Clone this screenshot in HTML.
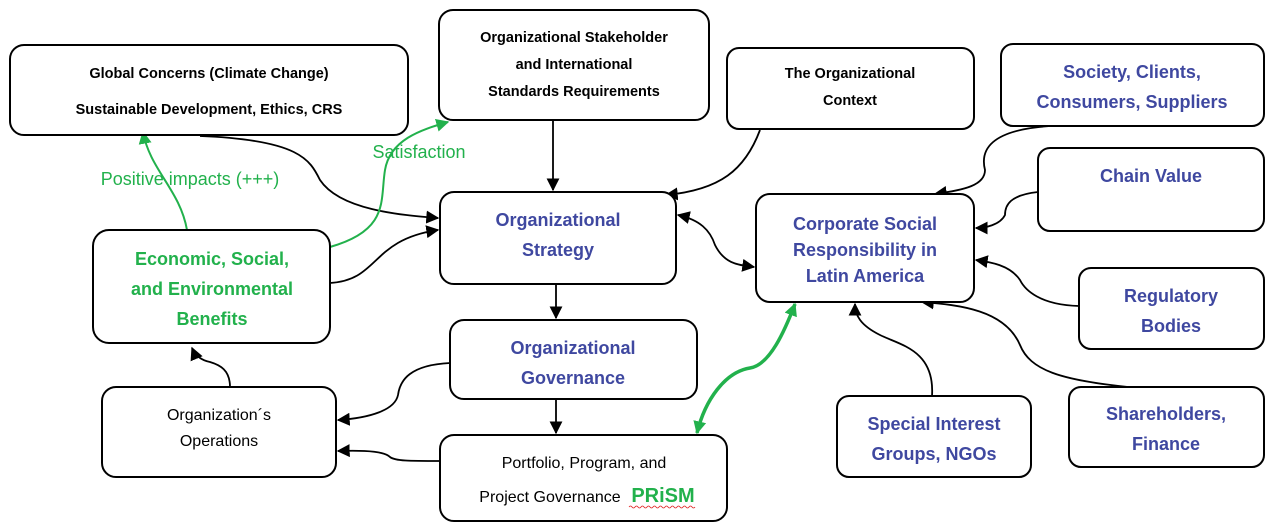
<!DOCTYPE html>
<html><head><meta charset="utf-8"><style>
html,body{margin:0;padding:0;background:#fff;}
svg{display:block;font-family:"Liberation Sans Narrow","Liberation Sans",sans-serif;}
.b{fill:#fff;stroke:#000;stroke-width:2;}
.k{fill:none;stroke:#000;stroke-width:1.8;}
.g{fill:none;stroke:#22b14c;stroke-width:2;}
text{text-anchor:middle;}
.bl{fill:#3f48a0;font-weight:bold;font-size:18px;}
.bk{fill:#000;font-weight:bold;font-size:14.5px;}
.gr{fill:#22b14c;font-weight:bold;font-size:18px;}
.n{fill:#000;font-size:16px;}
</style></head><body>
<svg width="1272" height="532" viewBox="0 0 1272 532">
<defs>
<marker id="a" viewBox="0 0 10 10" refX="9" refY="5" markerWidth="7" markerHeight="7" markerUnits="userSpaceOnUse" orient="auto-start-reverse"><path d="M0,0 L10,5 L0,10 z" fill="#000"/></marker>
<marker id="ag" viewBox="0 0 10 10" refX="9" refY="5" markerWidth="7" markerHeight="7" markerUnits="userSpaceOnUse" orient="auto-start-reverse"><path d="M0,0 L10,5 L0,10 z" fill="#22b14c"/></marker>
<marker id="A" viewBox="0 0 10 10" refX="9" refY="5" markerWidth="13" markerHeight="13" markerUnits="userSpaceOnUse" orient="auto-start-reverse"><path d="M0,0 L10,5 L0,10 z" fill="#000"/></marker>
<marker id="AG" viewBox="0 0 10 10" refX="9" refY="5" markerWidth="13" markerHeight="13" markerUnits="userSpaceOnUse" orient="auto-start-reverse"><path d="M0,0 L10,5 L0,10 z" fill="#22b14c"/></marker>
</defs>

<!-- connectors -->
<g class="k">
<path d="M200,136 C300,140 310,160 320,180 C340,210 400,215 438,218" marker-end="url(#A)"/>
<path d="M330,283 C380,280 370,240 438,230" marker-end="url(#A)"/>
<path d="M553,120 L553,190" marker-end="url(#A)"/>
<path d="M760,130 C745,170 720,190 666,195" marker-end="url(#A)"/>
<path d="M678,215 C700,220 710,230 715,245 C725,265 740,265 754,267" marker-start="url(#A)" marker-end="url(#A)"/>
<path d="M1050,126 C990,130 980,150 985,170 C985,185 965,190 935,194" marker-end="url(#A)"/>
<path d="M1038,192 C1010,195 1005,205 1005,215 C1000,225 985,228 976,228" marker-end="url(#A)"/>
<path d="M1079,306 C1040,305 1025,290 1020,280 C1010,265 990,262 976,260" marker-end="url(#A)"/>
<path d="M1128,387 C1060,380 1030,370 1020,345 C1005,310 960,305 922,302" marker-end="url(#A)"/>
<path d="M932,396 C935,350 900,345 880,335 C860,325 855,315 855,304" marker-end="url(#A)"/>
<path d="M556,284 L556,318" marker-end="url(#A)"/>
<path d="M556,399 L556,433" marker-end="url(#A)"/>
<path d="M450,363 C410,365 400,380 398,395 C395,410 370,418 338,420" marker-end="url(#A)"/>
<path d="M440,461 C410,461 395,461 390,457 C385,452 370,450 338,451" marker-end="url(#A)"/>
<path d="M230,387 C230,370 220,365 210,362 C200,360 195,355 192,348" marker-end="url(#A)"/>
</g>
<path class="g" d="M187,230 C180,190 150,170 143,132" marker-end="url(#AG)"/>
<path class="g" d="M330,247 C390,230 380,200 385,170 C390,140 420,130 448,122" marker-end="url(#AG)"/>
<path d="M795,304 C785,330 770,365 750,368 C725,372 705,400 697,433" fill="none" stroke="#22b14c" stroke-width="3.5" marker-start="url(#AG)" marker-end="url(#AG)"/>

<!-- boxes -->
<rect class="b" x="10" y="45" width="398" height="90" rx="14"/>
<rect class="b" x="439" y="10" width="270" height="110" rx="14"/>
<rect class="b" x="727" y="48" width="247" height="81" rx="12"/>
<rect class="b" x="1001" y="44" width="263" height="82" rx="12"/>
<rect class="b" x="1038" y="148" width="226" height="83" rx="12"/>
<rect class="b" x="440" y="192" width="236" height="92" rx="14"/>
<rect class="b" x="756" y="194" width="218" height="108" rx="14"/>
<rect class="b" x="93" y="230" width="237" height="113" rx="16"/>
<rect class="b" x="1079" y="268" width="185" height="81" rx="12"/>
<rect class="b" x="450" y="320" width="247" height="79" rx="14"/>
<rect class="b" x="102" y="387" width="234" height="90" rx="14"/>
<rect class="b" x="837" y="396" width="194" height="81" rx="12"/>
<rect class="b" x="1069" y="387" width="195" height="80" rx="12"/>
<rect class="b" x="440" y="435" width="287" height="86" rx="14"/>

<!-- text -->
<text class="bk" x="209" y="78">Global Concerns (Climate Change)</text>
<text class="bk" x="209" y="114">Sustainable Development, Ethics, CRS</text>
<text class="bk" x="574" y="42">Organizational Stakeholder</text>
<text class="bk" x="574" y="69">and International</text>
<text class="bk" x="574" y="96">Standards Requirements</text>
<text class="bk" x="850" y="78">The Organizational</text>
<text class="bk" x="850" y="105">Context</text>
<text class="bl" x="1132" y="78">Society, Clients,</text>
<text class="bl" x="1132" y="108">Consumers, Suppliers</text>
<text class="bl" x="1151" y="182">Chain Value</text>
<text class="bl" x="558" y="226">Organizational</text>
<text class="bl" x="558" y="256">Strategy</text>
<text class="bl" x="865" y="230">Corporate Social</text>
<text class="bl" x="865" y="256">Responsibility in</text>
<text class="bl" x="865" y="282">Latin America</text>
<text class="gr" x="212" y="265">Economic, Social,</text>
<text class="gr" x="212" y="295">and Environmental</text>
<text class="gr" x="212" y="325">Benefits</text>
<text class="bl" x="1171" y="302">Regulatory</text>
<text class="bl" x="1171" y="332">Bodies</text>
<text class="bl" x="573" y="354">Organizational</text>
<text class="bl" x="573" y="384">Governance</text>
<text class="n" x="219" y="420">Organization´s</text>
<text class="n" x="219" y="446">Operations</text>
<text class="bl" x="934" y="430">Special Interest</text>
<text class="bl" x="934" y="460">Groups, NGOs</text>
<text class="bl" x="1166" y="420">Shareholders,</text>
<text class="bl" x="1166" y="450">Finance</text>
<text class="n" x="584" y="468">Portfolio, Program, and</text>
<text class="n" x="550" y="502">Project Governance</text>
<text x="663" y="502" style="fill:#22b14c;font-weight:bold;font-size:20px;">PRiSM</text>
<path d="M629,507 q1.5,-2 3,0 t3,0 t3,0 t3,0 t3,0 t3,0 t3,0 t3,0 t3,0 t3,0 t3,0 t3,0 t3,0 t3,0 t3,0 t3,0 t3,0 t3,0 t3,0 t3,0 t3,0 t3,0" fill="none" stroke="#e02020" stroke-width="0.8"/>
<text class="gr" x="190" y="185" style="font-weight:normal">Positive impacts (+++)</text>
<text class="gr" x="419" y="158" style="font-weight:normal">Satisfaction</text>
</svg>
</body></html>
